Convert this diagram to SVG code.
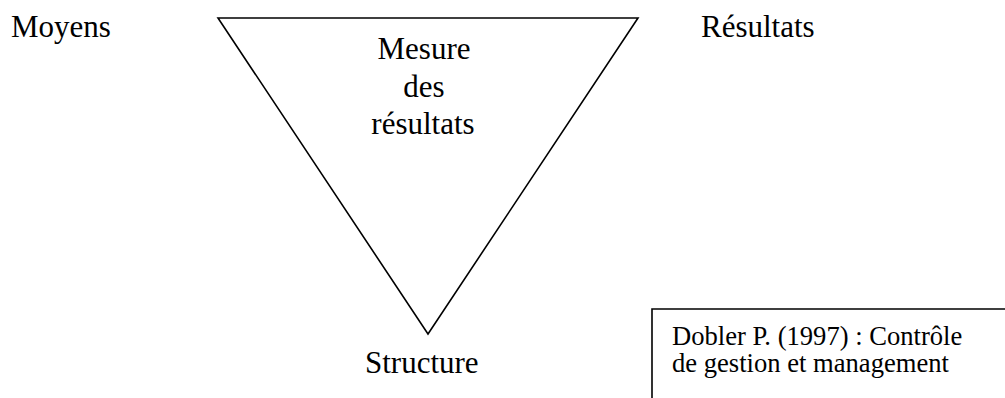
<svg xmlns="http://www.w3.org/2000/svg" width="1005" height="398" viewBox="0 0 1005 398">
<style>
text{font-family:"Liberation Serif","Times New Roman",serif;fill:#000}
.big{font-size:31px}
.small{font-size:26.6px}
.ln{fill:none;stroke:#000;stroke-width:1.6}
</style>
<rect width="1005" height="398" fill="#fff"/>
<g id="triangle">
<polygon class="ln" points="218,18 638,18 428,334"/>
<text class="big" x="424" y="59" text-anchor="middle">Mesure</text>
<text class="big" x="424" y="97" text-anchor="middle">des</text>
<text class="big" x="423" y="134" text-anchor="middle">résultats</text>
</g>
<g id="moyens"><text class="big" x="11" y="37">Moyens</text></g>
<g id="resultats"><text class="big" x="701" y="37">Résultats</text></g>
<g id="structure"><text class="big" x="365" y="373">Structure</text></g>
<g id="source">
<polyline class="ln" points="652,400 652,309 1007,309"/>
<text class="small" x="672" y="345">Dobler P. (1997) : Contrôle</text>
<text class="small" x="672" y="372">de gestion et management</text>
</g>
<g id="connectors"/>
</svg>
